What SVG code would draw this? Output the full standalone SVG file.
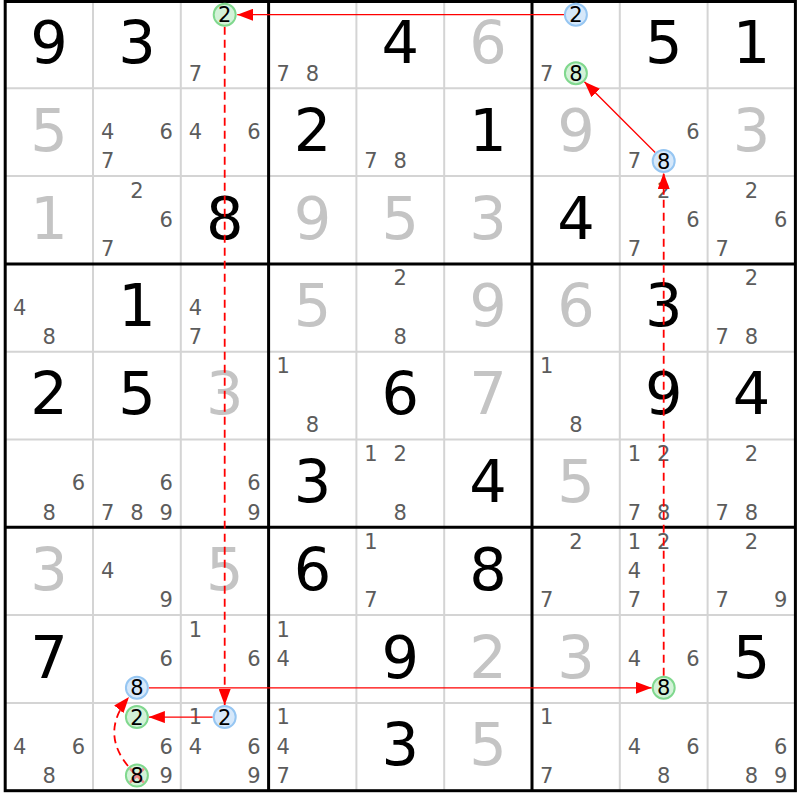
<svg xmlns="http://www.w3.org/2000/svg" width="800" height="800" viewBox="0 0 800 800">
<style>
text{font-family:"DejaVu Sans",Verdana,sans-serif;text-anchor:middle}
.g{font-size:59px;fill:#000}
.s{font-size:59px;fill:#c4c4c4}
.c{font-size:21px;fill:#5c5c5c}
.h{font-size:21px;fill:#000}
.cg{fill:#d3f2d8;stroke:#80d88e;stroke-width:2}
.cb{fill:#d6e8fa;stroke:#96c6f2;stroke-width:2}
.thin{stroke:#d4d4d4;stroke-width:2}
.thick{stroke:#000;stroke-width:3}
.sol{stroke:#ff0000;stroke-width:1.3;fill:none}
.dash{stroke:#ff0000;stroke-width:1.8;fill:none;stroke-dasharray:8 5}
</style>
<defs>
<marker id="ah" markerUnits="userSpaceOnUse" markerWidth="16" markerHeight="12" refX="16" refY="6" orient="auto">
<path d="M0,0 L16,6 L0,12 z" fill="#ff0000"/>
</marker>
</defs>
<rect width="800" height="800" fill="#fff"/>
<g id="grid">
<path class="thin" d="M93,0.5V790.7M180.8,0.5V790.7M356.4,0.5V790.7M444.2,0.5V790.7M619.8,0.5V790.7M707.6,0.5V790.7M5.2,88.3H795.4M5.2,176.1H795.4M5.2,351.7H795.4M5.2,439.5H795.4M5.2,615.1H795.4M5.2,702.9H795.4"/>
<path class="thick" d="M268.6,0.5V790.7M532,0.5V790.7M5.2,263.9H795.4M5.2,527.3H795.4"/>
<rect class="thick" x="5.2" y="1.5" width="790.2" height="789.2" fill="none"/>
</g>
<g id="cells">
<!-- row 1 -->
<g id="r1c1" transform="translate(5.2,0.5)"><text class="g" x="43.9" y="62.5">9</text></g>
<g id="r1c2" transform="translate(93,0.5)"><text class="g" x="43.9" y="62.5">3</text></g>
<g id="r1c3" transform="translate(180.8,0.5)"><text class="c" x="14.6" y="80">7</text></g>
<g id="r1c4" transform="translate(268.6,0.5)"><text class="c" x="14.6" y="80">7</text><text class="c" x="43.9" y="80">8</text></g>
<g id="r1c5" transform="translate(356.4,0.5)"><text class="g" x="43.9" y="62.5">4</text></g>
<g id="r1c6" transform="translate(444.2,0.5)"><text class="s" x="43.9" y="62.5">6</text></g>
<g id="r1c7" transform="translate(532,0.5)"><text class="c" x="14.6" y="80">7</text></g>
<g id="r1c8" transform="translate(619.8,0.5)"><text class="g" x="43.9" y="62.5">5</text></g>
<g id="r1c9" transform="translate(707.6,0.5)"><text class="g" x="43.9" y="62.5">1</text></g>
<!-- row 2 -->
<g id="r2c1" transform="translate(5.2,88.3)"><text class="s" x="43.9" y="62.5">5</text></g>
<g id="r2c2" transform="translate(93,88.3)"><text class="c" x="14.6" y="50.8">4</text><text class="c" x="73.2" y="50.8">6</text><text class="c" x="14.6" y="80">7</text></g>
<g id="r2c3" transform="translate(180.8,88.3)"><text class="c" x="14.6" y="50.8">4</text><text class="c" x="73.2" y="50.8">6</text></g>
<g id="r2c4" transform="translate(268.6,88.3)"><text class="g" x="43.9" y="62.5">2</text></g>
<g id="r2c5" transform="translate(356.4,88.3)"><text class="c" x="14.6" y="80">7</text><text class="c" x="43.9" y="80">8</text></g>
<g id="r2c6" transform="translate(444.2,88.3)"><text class="g" x="43.9" y="62.5">1</text></g>
<g id="r2c7" transform="translate(532,88.3)"><text class="s" x="43.9" y="62.5">9</text></g>
<g id="r2c8" transform="translate(619.8,88.3)"><text class="c" x="73.2" y="50.8">6</text><text class="c" x="14.6" y="80">7</text></g>
<g id="r2c9" transform="translate(707.6,88.3)"><text class="s" x="43.9" y="62.5">3</text></g>
<!-- row 3 -->
<g id="r3c1" transform="translate(5.2,176.1)"><text class="s" x="43.9" y="62.5">1</text></g>
<g id="r3c2" transform="translate(93,176.1)"><text class="c" x="43.9" y="21.5">2</text><text class="c" x="73.2" y="50.8">6</text><text class="c" x="14.6" y="80">7</text></g>
<g id="r3c3" transform="translate(180.8,176.1)"><text class="g" x="43.9" y="62.5">8</text></g>
<g id="r3c4" transform="translate(268.6,176.1)"><text class="s" x="43.9" y="62.5">9</text></g>
<g id="r3c5" transform="translate(356.4,176.1)"><text class="s" x="43.9" y="62.5">5</text></g>
<g id="r3c6" transform="translate(444.2,176.1)"><text class="s" x="43.9" y="62.5">3</text></g>
<g id="r3c7" transform="translate(532,176.1)"><text class="g" x="43.9" y="62.5">4</text></g>
<g id="r3c8" transform="translate(619.8,176.1)"><text class="c" x="43.9" y="21.5">2</text><text class="c" x="73.2" y="50.8">6</text><text class="c" x="14.6" y="80">7</text></g>
<g id="r3c9" transform="translate(707.6,176.1)"><text class="c" x="43.9" y="21.5">2</text><text class="c" x="73.2" y="50.8">6</text><text class="c" x="14.6" y="80">7</text></g>
<!-- row 4 -->
<g id="r4c1" transform="translate(5.2,263.9)"><text class="c" x="14.6" y="50.8">4</text><text class="c" x="43.9" y="80">8</text></g>
<g id="r4c2" transform="translate(93,263.9)"><text class="g" x="43.9" y="62.5">1</text></g>
<g id="r4c3" transform="translate(180.8,263.9)"><text class="c" x="14.6" y="50.8">4</text><text class="c" x="14.6" y="80">7</text></g>
<g id="r4c4" transform="translate(268.6,263.9)"><text class="s" x="43.9" y="62.5">5</text></g>
<g id="r4c5" transform="translate(356.4,263.9)"><text class="c" x="43.9" y="21.5">2</text><text class="c" x="43.9" y="80">8</text></g>
<g id="r4c6" transform="translate(444.2,263.9)"><text class="s" x="43.9" y="62.5">9</text></g>
<g id="r4c7" transform="translate(532,263.9)"><text class="s" x="43.9" y="62.5">6</text></g>
<g id="r4c8" transform="translate(619.8,263.9)"><text class="g" x="43.9" y="62.5">3</text></g>
<g id="r4c9" transform="translate(707.6,263.9)"><text class="c" x="43.9" y="21.5">2</text><text class="c" x="14.6" y="80">7</text><text class="c" x="43.9" y="80">8</text></g>
<!-- row 5 -->
<g id="r5c1" transform="translate(5.2,351.7)"><text class="g" x="43.9" y="62.5">2</text></g>
<g id="r5c2" transform="translate(93,351.7)"><text class="g" x="43.9" y="62.5">5</text></g>
<g id="r5c3" transform="translate(180.8,351.7)"><text class="s" x="43.9" y="62.5">3</text></g>
<g id="r5c4" transform="translate(268.6,351.7)"><text class="c" x="14.6" y="21.5">1</text><text class="c" x="43.9" y="80">8</text></g>
<g id="r5c5" transform="translate(356.4,351.7)"><text class="g" x="43.9" y="62.5">6</text></g>
<g id="r5c6" transform="translate(444.2,351.7)"><text class="s" x="43.9" y="62.5">7</text></g>
<g id="r5c7" transform="translate(532,351.7)"><text class="c" x="14.6" y="21.5">1</text><text class="c" x="43.9" y="80">8</text></g>
<g id="r5c8" transform="translate(619.8,351.7)"><text class="g" x="43.9" y="62.5">9</text></g>
<g id="r5c9" transform="translate(707.6,351.7)"><text class="g" x="43.9" y="62.5">4</text></g>
<!-- row 6 -->
<g id="r6c1" transform="translate(5.2,439.5)"><text class="c" x="73.2" y="50.8">6</text><text class="c" x="43.9" y="80">8</text></g>
<g id="r6c2" transform="translate(93,439.5)"><text class="c" x="73.2" y="50.8">6</text><text class="c" x="14.6" y="80">7</text><text class="c" x="43.9" y="80">8</text><text class="c" x="73.2" y="80">9</text></g>
<g id="r6c3" transform="translate(180.8,439.5)"><text class="c" x="73.2" y="50.8">6</text><text class="c" x="73.2" y="80">9</text></g>
<g id="r6c4" transform="translate(268.6,439.5)"><text class="g" x="43.9" y="62.5">3</text></g>
<g id="r6c5" transform="translate(356.4,439.5)"><text class="c" x="14.6" y="21.5">1</text><text class="c" x="43.9" y="21.5">2</text><text class="c" x="43.9" y="80">8</text></g>
<g id="r6c6" transform="translate(444.2,439.5)"><text class="g" x="43.9" y="62.5">4</text></g>
<g id="r6c7" transform="translate(532,439.5)"><text class="s" x="43.9" y="62.5">5</text></g>
<g id="r6c8" transform="translate(619.8,439.5)"><text class="c" x="14.6" y="21.5">1</text><text class="c" x="43.9" y="21.5">2</text><text class="c" x="14.6" y="80">7</text><text class="c" x="43.9" y="80">8</text></g>
<g id="r6c9" transform="translate(707.6,439.5)"><text class="c" x="43.9" y="21.5">2</text><text class="c" x="14.6" y="80">7</text><text class="c" x="43.9" y="80">8</text></g>
<!-- row 7 -->
<g id="r7c1" transform="translate(5.2,527.3)"><text class="s" x="43.9" y="62.5">3</text></g>
<g id="r7c2" transform="translate(93,527.3)"><text class="c" x="14.6" y="50.8">4</text><text class="c" x="73.2" y="80">9</text></g>
<g id="r7c3" transform="translate(180.8,527.3)"><text class="s" x="43.9" y="62.5">5</text></g>
<g id="r7c4" transform="translate(268.6,527.3)"><text class="g" x="43.9" y="62.5">6</text></g>
<g id="r7c5" transform="translate(356.4,527.3)"><text class="c" x="14.6" y="21.5">1</text><text class="c" x="14.6" y="80">7</text></g>
<g id="r7c6" transform="translate(444.2,527.3)"><text class="g" x="43.9" y="62.5">8</text></g>
<g id="r7c7" transform="translate(532,527.3)"><text class="c" x="43.9" y="21.5">2</text><text class="c" x="14.6" y="80">7</text></g>
<g id="r7c8" transform="translate(619.8,527.3)"><text class="c" x="14.6" y="21.5">1</text><text class="c" x="43.9" y="21.5">2</text><text class="c" x="14.6" y="50.8">4</text><text class="c" x="14.6" y="80">7</text></g>
<g id="r7c9" transform="translate(707.6,527.3)"><text class="c" x="43.9" y="21.5">2</text><text class="c" x="14.6" y="80">7</text><text class="c" x="73.2" y="80">9</text></g>
<!-- row 8 -->
<g id="r8c1" transform="translate(5.2,615.1)"><text class="g" x="43.9" y="62.5">7</text></g>
<g id="r8c2" transform="translate(93,615.1)"><text class="c" x="73.2" y="50.8">6</text></g>
<g id="r8c3" transform="translate(180.8,615.1)"><text class="c" x="14.6" y="21.5">1</text><text class="c" x="73.2" y="50.8">6</text></g>
<g id="r8c4" transform="translate(268.6,615.1)"><text class="c" x="14.6" y="21.5">1</text><text class="c" x="14.6" y="50.8">4</text></g>
<g id="r8c5" transform="translate(356.4,615.1)"><text class="g" x="43.9" y="62.5">9</text></g>
<g id="r8c6" transform="translate(444.2,615.1)"><text class="s" x="43.9" y="62.5">2</text></g>
<g id="r8c7" transform="translate(532,615.1)"><text class="s" x="43.9" y="62.5">3</text></g>
<g id="r8c8" transform="translate(619.8,615.1)"><text class="c" x="14.6" y="50.8">4</text><text class="c" x="73.2" y="50.8">6</text></g>
<g id="r8c9" transform="translate(707.6,615.1)"><text class="g" x="43.9" y="62.5">5</text></g>
<!-- row 9 -->
<g id="r9c1" transform="translate(5.2,702.9)"><text class="c" x="14.6" y="50.8">4</text><text class="c" x="73.2" y="50.8">6</text><text class="c" x="43.9" y="80">8</text></g>
<g id="r9c2" transform="translate(93,702.9)"><text class="c" x="73.2" y="50.8">6</text><text class="c" x="73.2" y="80">9</text></g>
<g id="r9c3" transform="translate(180.8,702.9)"><text class="c" x="14.6" y="21.5">1</text><text class="c" x="14.6" y="50.8">4</text><text class="c" x="73.2" y="50.8">6</text><text class="c" x="73.2" y="80">9</text></g>
<g id="r9c4" transform="translate(268.6,702.9)"><text class="c" x="14.6" y="21.5">1</text><text class="c" x="14.6" y="50.8">4</text><text class="c" x="14.6" y="80">7</text></g>
<g id="r9c5" transform="translate(356.4,702.9)"><text class="g" x="43.9" y="62.5">3</text></g>
<g id="r9c6" transform="translate(444.2,702.9)"><text class="s" x="43.9" y="62.5">5</text></g>
<g id="r9c7" transform="translate(532,702.9)"><text class="c" x="14.6" y="21.5">1</text><text class="c" x="14.6" y="80">7</text></g>
<g id="r9c8" transform="translate(619.8,702.9)"><text class="c" x="14.6" y="50.8">4</text><text class="c" x="73.2" y="50.8">6</text><text class="c" x="43.9" y="80">8</text></g>
<g id="r9c9" transform="translate(707.6,702.9)"><text class="c" x="73.2" y="50.8">6</text><text class="c" x="43.9" y="80">8</text><text class="c" x="73.2" y="80">9</text></g>
</g>
<g id="connectors">
<path class="sol" d="M564.4,14.7H237.2" marker-end="url(#ah)"/>
<path class="dash" d="M224.7,26.7V705.1" marker-end="url(#ah)"/>
<path class="sol" d="M212.7,717.1H148.9" marker-end="url(#ah)"/>
<path class="dash" d="M128,766 Q100,732 129,697" marker-end="url(#ah)"/>
<path class="sol" d="M148.9,687.8H651.7" marker-end="url(#ah)"/>
<path class="dash" d="M663.7,675.8V173" marker-end="url(#ah)"/>
<path class="sol" d="M655.2,152.5L584.4,81.7" marker-end="url(#ah)"/>
</g>
<g id="chain-nodes">
<g id="n-r1c3-2"><circle class="cg" cx="224.7" cy="14.7" r="11"/><text class="h" x="224.7" y="22.3">2</text></g>
<g id="n-r1c7-2"><circle class="cb" cx="575.9" cy="14.7" r="11"/><text class="h" x="575.9" y="22.3">2</text></g>
<g id="n-r1c7-8"><circle class="cg" cx="575.9" cy="73.2" r="11"/><text class="h" x="575.9" y="80.8">8</text></g>
<g id="n-r2c8-8"><circle class="cb" cx="663.7" cy="161" r="11"/><text class="h" x="663.7" y="168.6">8</text></g>
<g id="n-r8c2-8"><circle class="cb" cx="136.9" cy="687.8" r="11"/><text class="h" x="136.9" y="695.4">8</text></g>
<g id="n-r8c8-8"><circle class="cg" cx="663.7" cy="687.8" r="11"/><text class="h" x="663.7" y="695.4">8</text></g>
<g id="n-r9c2-2"><circle class="cg" cx="136.9" cy="717.1" r="11"/><text class="h" x="136.9" y="724.7">2</text></g>
<g id="n-r9c3-2"><circle class="cb" cx="224.7" cy="717.1" r="11"/><text class="h" x="224.7" y="724.7">2</text></g>
<g id="n-r9c2-8"><circle class="cg" cx="136.9" cy="775.6" r="11"/><path d="M129.9,768.6L143.9,782.6M143.9,768.6L129.9,782.6" stroke="#f08a8a" stroke-width="2.5"/><text class="h" x="136.9" y="783.2">8</text></g>
</g>
</svg>
